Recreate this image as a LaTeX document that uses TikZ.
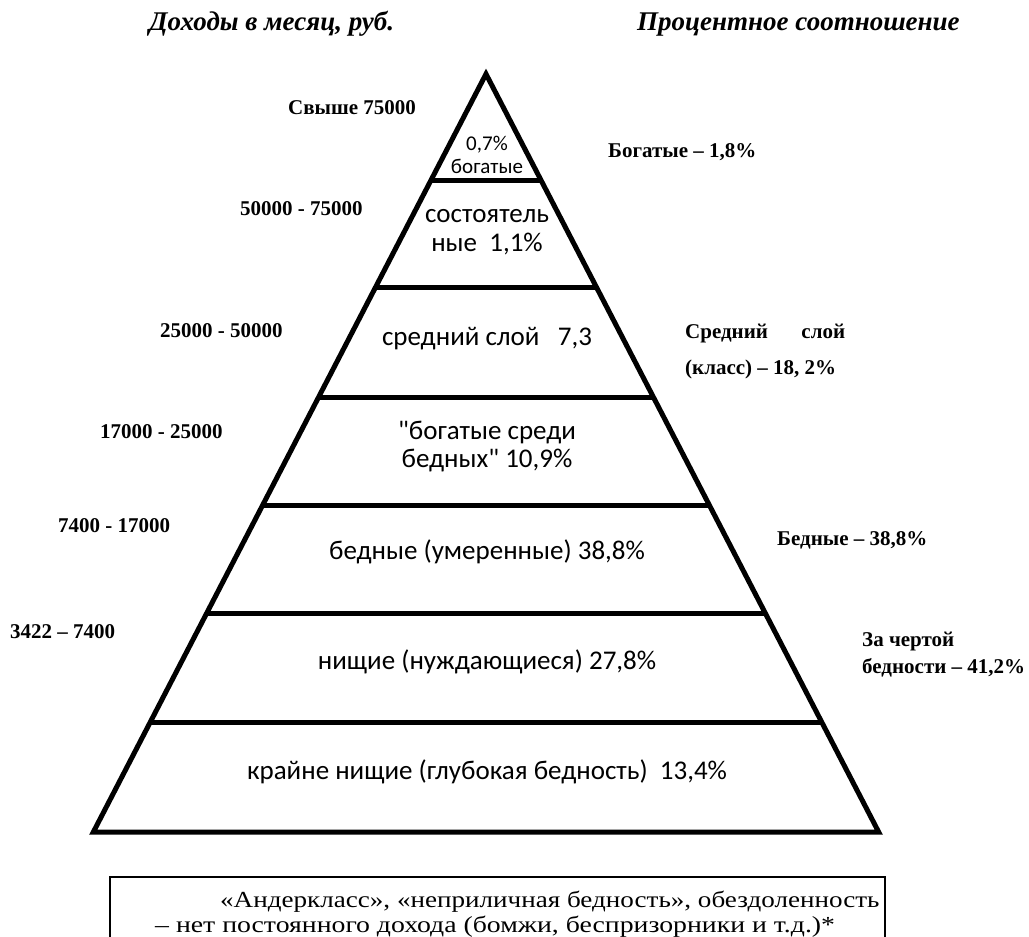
\documentclass[tikz,border=0pt]{standalone}
\usepackage{fontspec}
\setmainfont{Liberation Serif}
\newfontfamily\calib{Carlito}
\begin{document}
\begin{tikzpicture}[x=1pt,y=-1pt,
  pl/.style={line width=5pt,line join=miter},
  outl/.style={font=\fontsize{21}{25}\selectfont\bfseries,anchor=mid west,inner sep=0pt},
  ttl/.style={font=\fontsize{27}{31}\selectfont\bfseries\itshape,anchor=mid west,inner sep=0pt},
  inl/.style={font=\calib\fontsize{27}{31}\selectfont,anchor=mid,inner sep=0pt},
  inls/.style={font=\calib\fontsize{21}{24}\selectfont,anchor=mid,inner sep=0pt},
  boxt/.style={font=\fontsize{23}{26}\selectfont,inner sep=0pt}]
\useasboundingbox (0,0) rectangle (1029,937);
\pgfmathsetmacro{\ax}{486}
\pgfmathsetmacro{\ay}{74}
\pgfmathsetmacro{\k}{0.518}
% pyramid
\draw[pl] (\ax,\ay) -- ({\ax-\k*(832-\ay)},832) -- ({\ax+\k*(832-\ay)},832) -- cycle;
\foreach \yy in {180,287,397,505,613,722}{
  \draw[pl,line cap=butt] ({\ax-\k*(\yy-\ay)},\yy) -- ({\ax+\k*(\yy-\ay)},\yy);
}
% titles
\node[ttl] (t1) at (149,28) {Доходы в месяц, руб.};
\node[ttl] (t2) at (637,28) {Процентное соотношение};
% left labels
\node[outl] (l1) at (288,112) {Свыше 75000};
\node[outl] (l2) at (240,213) {50000 - 75000};
\node[outl] (l3) at (160,335) {25000 - 50000};
\node[outl] (l4) at (100,436) {17000 - 25000};
\node[outl] (l5) at (58,530) {7400 - 17000};
\node[outl] (l6) at (10,636) {3422 – 7400};
% right labels
\node[outl] (r1) at (608,155) {Богатые – 1,8\%};
\node[outl] (r2a) at (685,336) {\makebox[160pt][l]{Средний\hfill слой}};
\node[outl] (r2b) at (685,372) {(класс) – 18, 2\%};
\node[outl] (r3) at (777,543) {Бедные – 38,8\%};
\node[outl] (r4a) at (862,644) {За чертой};
\node[outl] (r4b) at (862,671) {бедности – 41,2\%};
% inner labels
\node[inls] (i1a) at (487,148) {0,7\%};
\node[inls] (i1b) at (487,171) {богатые};
\node[inl] (i2a) at (487,220) {состоятель};
\node[inl] (i2b) at (487,249) {ные\ \ 1,1\%};
\node[inl] (i3) at (487,343) {средний слой\ \ \ 7,3};
\node[inl] (i4a) at (487,437) {"богатые среди};
\node[inl] (i4b) at (487,465) {бедных" 10,9\%};
\node[inl] (i5) at (487,557) {бедные (умеренные) 38,8\%};
\node[inl] (i6) at (487,667) {нищие (нуждающиеся) 27,8\%};
\node[inl] (i7) at (487,777) {крайне нищие (глубокая бедность)\ \ 13,4\%};
% bottom box
\draw[line width=2pt] (110,945) -- (110,877) -- (885,877) -- (885,945);
\node[boxt,anchor=base west] (b1) at (220,907) {\scalebox{1.178}[1]{«Андеркласс», «неприличная бедность», обездоленность}};
\node[boxt,anchor=base west] (b2) at (155,932) {\scalebox{1.207}[1]{– нет постоянного дохода (бомжи, беспризорники и т.д.)*}};
\end{tikzpicture}
\end{document}
